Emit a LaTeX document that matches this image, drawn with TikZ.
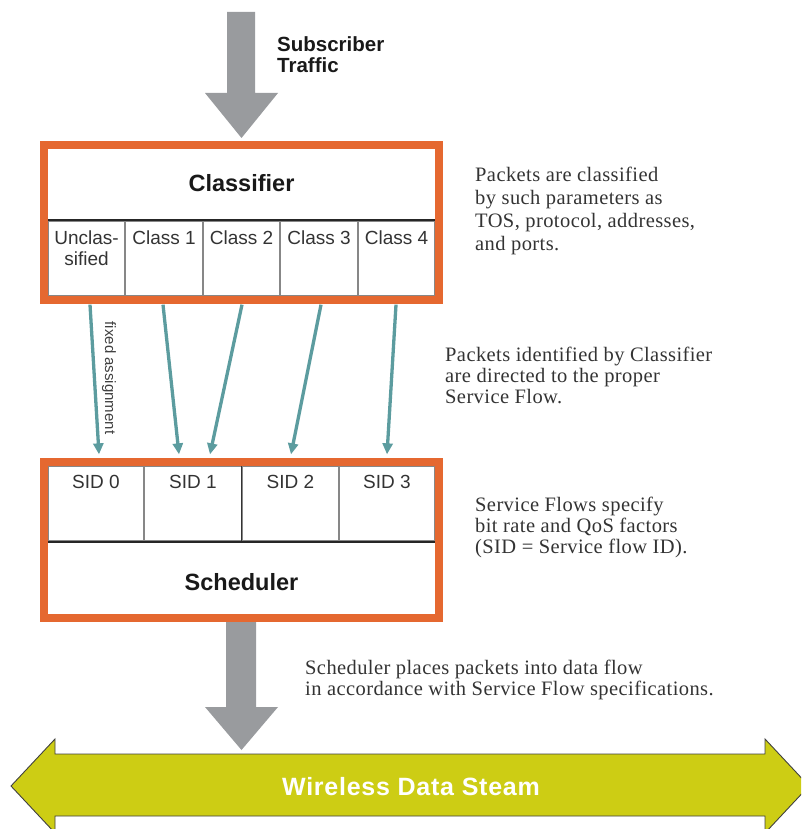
\documentclass[tikz,border=0pt]{standalone}
\usepackage{fontspec}
\setmainfont{Liberation Serif}
\setsansfont{Liberation Sans}
\newfontfamily\descfont[LetterSpace=2]{Liberation Serif}
\newfontfamily\wirefont[LetterSpace=3]{Liberation Sans}
\usetikzlibrary{arrows.meta,calc}
\definecolor{frameorange}{RGB}{229,104,48}
\definecolor{flowgray}{RGB}{153,155,158}
\definecolor{flowteal}{RGB}{92,156,159}
\definecolor{streamyellow}{RGB}{205,205,20}
\definecolor{cellgray}{RGB}{135,135,135}
\newcommand{\leftlines}[2]{\vtop{\baselineskip=#1\lineskiplimit=-20pt\halign{##\hfil\cr#2\crcr}}}
\newcommand{\centerlines}[2]{\vtop{\baselineskip=#1\lineskiplimit=-20pt\halign{\hfil##\hfil\cr#2\crcr}}}
\begin{document}
\begin{tikzpicture}[x=1pt,y=-1pt,
  cellbox/.style={draw=cellgray, line width=1.3pt, inner sep=0, minimum height=75pt},
  frame/.style={draw=frameorange, line width=8pt, inner sep=0, minimum width=395pt},
  celltext/.style={font=\sffamily\fontsize{19}{21}\selectfont, text=black!80, anchor=base, inner sep=0},
  titletext/.style={font=\sffamily\bfseries\fontsize{23.5}{26}\selectfont, text=black!90, anchor=base, inner sep=0},
  desc/.style={font=\descfont\fontsize{20.5}{22}\selectfont, text=black!80, anchor=base west, inner sep=0},
  flow/.style={draw=flowteal, line width=3.3pt, -{Triangle[length=11pt,width=10pt]}},
  bigarrow/.style={fill=flowgray, draw=none},
  divider/.style={draw=black!85, line width=2pt}
]
\useasboundingbox (0,0) rectangle (801,829);
\clip (0,0) rectangle (801,829);

% big gray arrows
\fill[bigarrow] (227,12) -- (255,12) -- (255,93) -- (278,93) -- (241.5,138) -- (205,93) -- (227,93) -- cycle;
\fill[bigarrow] (226,622) -- (256,622) -- (256,707) -- (278,707) -- (241.5,750) -- (205,707) -- (226,707) -- cycle;

\node[font=\sffamily\bfseries\fontsize{20.5}{22}\selectfont, text=black!90, anchor=base west, inner sep=0] (subs) at (277,52)
  {\leftlines{21pt}{Subscriber\cr Traffic}};

% classifier cells
\node[cellbox, minimum width=77pt] (cls0) at (86.5,258.5) {};
\node[cellbox, minimum width=78pt] (cls1) at (164,258.5) {};
\node[cellbox, minimum width=77pt] (cls2) at (241.5,258.5) {};
\node[cellbox, minimum width=78pt] (cls3) at (319,258.5) {};
\node[cellbox, minimum width=77pt] (cls4) at (396.5,258.5) {};
\draw[divider] (cls0.north west) -- (cls4.north east);
\node[celltext] (l0) at ($(cls0.north)+(0,24)$) {\centerlines{21pt}{Unclas-\cr sified}};
\node[celltext] (l1) at ($(cls1.north)+(0,24)$) {Class 1};
\node[celltext] (l2) at ($(cls2.north)+(0,24)$) {Class 2};
\node[celltext] (l3) at ($(cls3.north)+(0,24)$) {Class 3};
\node[celltext] (l4) at ($(cls4.north)+(0,24)$) {Class 4};
\node[frame, minimum height=155pt] (clsframe) at (241.5,222.5) {};
\node[titletext] (clstitle) at (241.5,192) {Classifier};

% scheduler cells
\node[cellbox, minimum width=96pt] (sid0) at (96,503.5) {};
\node[cellbox, minimum width=98pt] (sid1) at (193,503.5) {};
\node[cellbox, minimum width=97pt] (sid2) at (290.5,503.5) {};
\node[cellbox, minimum width=96pt] (sid3) at (387,503.5) {};
\draw[draw=black!80, line width=1.3pt] (sid2.north west) -- (sid2.south west);
\draw[divider] (sid0.south west) -- (sid3.south east);
\node[celltext] (s0) at ($(sid0.north)+(0,23)$) {SID 0};
\node[celltext] (s1) at ($(sid1.north)+(0,23)$) {SID 1};
\node[celltext] (s2) at ($(sid2.north)+(0,23)$) {SID 2};
\node[celltext] (s3) at ($(sid3.north)+(0,23)$) {SID 3};
\node[frame, minimum height=156pt] (schframe) at (241.5,540) {};
\node[titletext] (schtitle) at (241.5,590) {Scheduler};

% teal flows
\draw[flow] ($(cls0.south)+(3.5,8)$) -- ($(sid0.north)+(3,-11)$);
\draw[flow] ($(cls1.south)+(-1,8)$) -- ($(sid1.north)+(-14,-11)$);
\draw[flow] ($(cls2.south)+(0.5,8)$) -- ($(sid1.north)+(17,-11)$);
\draw[flow] ($(cls3.south)+(2,8)$) -- ($(sid2.north)+(0.5,-11)$);
\draw[flow] ($(cls4.south)+(-0.5,8)$) -- ($(sid3.north)+(0,-11)$);
\node[rotate=-90, font=\sffamily\fontsize{15}{17}\selectfont, text=black!75, inner sep=0] (fixlbl) at (109,378) {fixed assignment};

% descriptions
\node[desc] (d1) at (475,182) {\leftlines{22.7pt}{Packets are classified\cr by such parameters as\cr TOS, protocol, addresses,\cr and ports.}};
\node[desc] (d2) at (445,361) {\leftlines{21pt}{Packets identified by Classifier\cr are directed to the proper\cr Service Flow.}};
\node[desc] (d3) at (475,511) {\leftlines{21pt}{Service Flows specify\cr bit rate and QoS factors\cr (SID = Service flow ID).}};
\node[desc] (d4) at (305,674) {\leftlines{21pt}{Scheduler places packets into data flow\cr in accordance with Service Flow specifications.}};

% wireless data stream
\filldraw[fill=streamyellow, draw=black!75, line width=0.9pt]
  (11,786) -- (55,739) -- (55,754) -- (765,754) -- (765,739) -- (809,786) -- (765,833) -- (765,816) -- (55,816) -- (55,833) -- cycle;
\node[font=\wirefont\bfseries\fontsize{25}{28}\selectfont, text=white, anchor=base, inner sep=0] (wds) at (411,795) {Wireless Data Steam};
\end{tikzpicture}
\end{document}
